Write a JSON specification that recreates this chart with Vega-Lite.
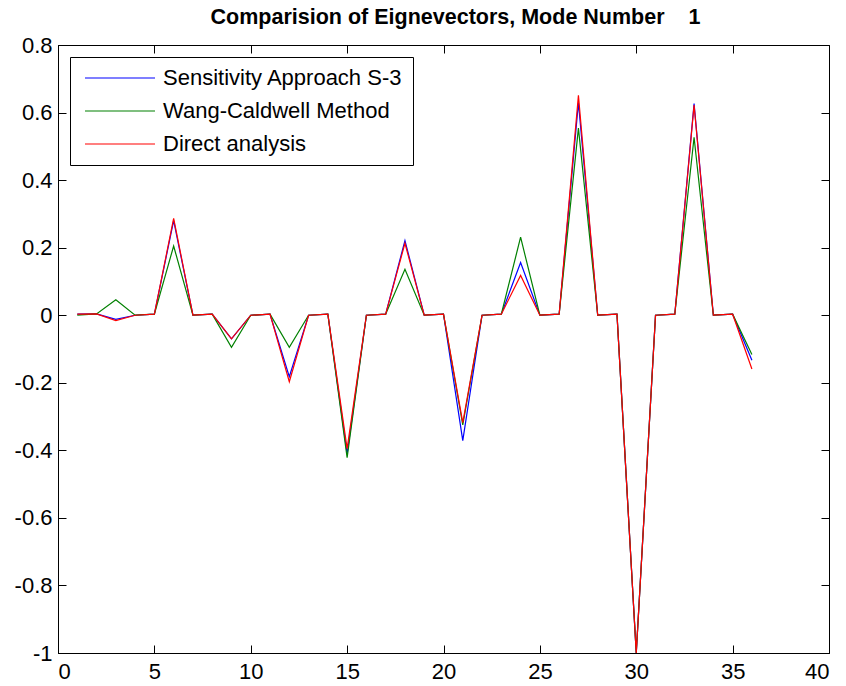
{
  "$schema": "https://vega.github.io/schema/vega-lite/v6.json",
  "width": 771,
  "height": 608,
  "autosize": "none",
  "padding": {"left": 58, "top": 45, "right": 17, "bottom": 33},
  "background": "white",
  "title": {"text": "Comparision of Eignevectors, Mode Number\u00a0\u00a0\u00a0 1", "font": "Liberation Sans", "fontSize": 21.5, "fontWeight": "bold", "color": "black", "offset": 6, "dx": 12, "anchor": "middle"},
  "config": {
    "view": {"stroke": "black", "strokeWidth": 1},
    "axis": {"grid": false, "domainColor": "black", "tickColor": "black", "labelColor": "black", "labelFont": "Liberation Sans", "labelFontSize": 22, "tickSize": -8, "title": null}
  },
  "data": {"values": [
    {"i":1,"s":"Sensitivity Approach S-3","v":0.003},{"i":2,"s":"Sensitivity Approach S-3","v":0.004},{"i":3,"s":"Sensitivity Approach S-3","v":-0.012},{"i":4,"s":"Sensitivity Approach S-3","v":0},{"i":5,"s":"Sensitivity Approach S-3","v":0.003},{"i":6,"s":"Sensitivity Approach S-3","v":0.28},{"i":7,"s":"Sensitivity Approach S-3","v":0},{"i":8,"s":"Sensitivity Approach S-3","v":0.003},{"i":9,"s":"Sensitivity Approach S-3","v":-0.07},{"i":10,"s":"Sensitivity Approach S-3","v":0},{"i":11,"s":"Sensitivity Approach S-3","v":0.003},{"i":12,"s":"Sensitivity Approach S-3","v":-0.182},{"i":13,"s":"Sensitivity Approach S-3","v":0},{"i":14,"s":"Sensitivity Approach S-3","v":0.003},{"i":15,"s":"Sensitivity Approach S-3","v":-0.41},{"i":16,"s":"Sensitivity Approach S-3","v":0},{"i":17,"s":"Sensitivity Approach S-3","v":0.003},{"i":18,"s":"Sensitivity Approach S-3","v":0.221},{"i":19,"s":"Sensitivity Approach S-3","v":0},{"i":20,"s":"Sensitivity Approach S-3","v":0.003},{"i":21,"s":"Sensitivity Approach S-3","v":-0.371},{"i":22,"s":"Sensitivity Approach S-3","v":0},{"i":23,"s":"Sensitivity Approach S-3","v":0.003},{"i":24,"s":"Sensitivity Approach S-3","v":0.156},{"i":25,"s":"Sensitivity Approach S-3","v":0},{"i":26,"s":"Sensitivity Approach S-3","v":0.003},{"i":27,"s":"Sensitivity Approach S-3","v":0.629},{"i":28,"s":"Sensitivity Approach S-3","v":0},{"i":29,"s":"Sensitivity Approach S-3","v":0.003},{"i":30,"s":"Sensitivity Approach S-3","v":-1},{"i":31,"s":"Sensitivity Approach S-3","v":0},{"i":32,"s":"Sensitivity Approach S-3","v":0.003},{"i":33,"s":"Sensitivity Approach S-3","v":0.627},{"i":34,"s":"Sensitivity Approach S-3","v":0},{"i":35,"s":"Sensitivity Approach S-3","v":0.003},{"i":36,"s":"Sensitivity Approach S-3","v":-0.133},
    {"i":1,"s":"Wang-Caldwell Method","v":0},{"i":2,"s":"Wang-Caldwell Method","v":0.004},{"i":3,"s":"Wang-Caldwell Method","v":0.046},{"i":4,"s":"Wang-Caldwell Method","v":0},{"i":5,"s":"Wang-Caldwell Method","v":0.003},{"i":6,"s":"Wang-Caldwell Method","v":0.205},{"i":7,"s":"Wang-Caldwell Method","v":0},{"i":8,"s":"Wang-Caldwell Method","v":0.003},{"i":9,"s":"Wang-Caldwell Method","v":-0.095},{"i":10,"s":"Wang-Caldwell Method","v":0},{"i":11,"s":"Wang-Caldwell Method","v":0.003},{"i":12,"s":"Wang-Caldwell Method","v":-0.095},{"i":13,"s":"Wang-Caldwell Method","v":0},{"i":14,"s":"Wang-Caldwell Method","v":0.003},{"i":15,"s":"Wang-Caldwell Method","v":-0.422},{"i":16,"s":"Wang-Caldwell Method","v":0},{"i":17,"s":"Wang-Caldwell Method","v":0.003},{"i":18,"s":"Wang-Caldwell Method","v":0.136},{"i":19,"s":"Wang-Caldwell Method","v":0},{"i":20,"s":"Wang-Caldwell Method","v":0.003},{"i":21,"s":"Wang-Caldwell Method","v":-0.325},{"i":22,"s":"Wang-Caldwell Method","v":0},{"i":23,"s":"Wang-Caldwell Method","v":0.003},{"i":24,"s":"Wang-Caldwell Method","v":0.231},{"i":25,"s":"Wang-Caldwell Method","v":0},{"i":26,"s":"Wang-Caldwell Method","v":0.003},{"i":27,"s":"Wang-Caldwell Method","v":0.554},{"i":28,"s":"Wang-Caldwell Method","v":0},{"i":29,"s":"Wang-Caldwell Method","v":0.003},{"i":30,"s":"Wang-Caldwell Method","v":-1},{"i":31,"s":"Wang-Caldwell Method","v":0},{"i":32,"s":"Wang-Caldwell Method","v":0.003},{"i":33,"s":"Wang-Caldwell Method","v":0.527},{"i":34,"s":"Wang-Caldwell Method","v":0},{"i":35,"s":"Wang-Caldwell Method","v":0.003},{"i":36,"s":"Wang-Caldwell Method","v":-0.116},
    {"i":1,"s":"Direct analysis","v":0.003},{"i":2,"s":"Direct analysis","v":0.004},{"i":3,"s":"Direct analysis","v":-0.016},{"i":4,"s":"Direct analysis","v":0},{"i":5,"s":"Direct analysis","v":0.003},{"i":6,"s":"Direct analysis","v":0.287},{"i":7,"s":"Direct analysis","v":0},{"i":8,"s":"Direct analysis","v":0.003},{"i":9,"s":"Direct analysis","v":-0.07},{"i":10,"s":"Direct analysis","v":0},{"i":11,"s":"Direct analysis","v":0.003},{"i":12,"s":"Direct analysis","v":-0.197},{"i":13,"s":"Direct analysis","v":0},{"i":14,"s":"Direct analysis","v":0.003},{"i":15,"s":"Direct analysis","v":-0.395},{"i":16,"s":"Direct analysis","v":0},{"i":17,"s":"Direct analysis","v":0.003},{"i":18,"s":"Direct analysis","v":0.213},{"i":19,"s":"Direct analysis","v":0},{"i":20,"s":"Direct analysis","v":0.003},{"i":21,"s":"Direct analysis","v":-0.318},{"i":22,"s":"Direct analysis","v":0},{"i":23,"s":"Direct analysis","v":0.003},{"i":24,"s":"Direct analysis","v":0.118},{"i":25,"s":"Direct analysis","v":0},{"i":26,"s":"Direct analysis","v":0.003},{"i":27,"s":"Direct analysis","v":0.651},{"i":28,"s":"Direct analysis","v":0},{"i":29,"s":"Direct analysis","v":0.003},{"i":30,"s":"Direct analysis","v":-1},{"i":31,"s":"Direct analysis","v":0},{"i":32,"s":"Direct analysis","v":0.003},{"i":33,"s":"Direct analysis","v":0.622},{"i":34,"s":"Direct analysis","v":0},{"i":35,"s":"Direct analysis","v":0.003},{"i":36,"s":"Direct analysis","v":-0.159}
  ]},
  "layer": [
    {
      "mark": {"type": "point", "opacity": 0},
      "encoding": {
        "x": {"field": "i", "type": "quantitative", "scale": {"domain": [0, 40], "nice": false, "zero": false}, "axis": {"orient": "top", "labels": false, "values": [0,5,10,15,20,25,30,35,40], "domain": false}},
        "y": {"field": "v", "type": "quantitative", "scale": {"domain": [-1, 0.8], "nice": false, "zero": false}, "axis": {"orient": "right", "labels": false, "values": [-1,-0.8,-0.6,-0.4,-0.2,0,0.2,0.4,0.6,0.8], "domain": false}}
      }
    },
    {
      "mark": {"type": "line", "strokeWidth": 1.2, "clip": true},
      "encoding": {
        "x": {"field": "i", "type": "quantitative", "scale": {"domain": [0, 40], "nice": false, "zero": false}, "axis": {"orient": "bottom", "values": [0,5,10,15,20,25,30,35,40], "labelPadding": 16, "labelExpr": "toString(datum.value)"}},
        "y": {"field": "v", "type": "quantitative", "scale": {"domain": [-1, 0.8], "nice": false, "zero": false}, "axis": {"orient": "left", "values": [-1,-0.8,-0.6,-0.4,-0.2,0,0.2,0.4,0.6,0.8], "labelPadding": 14, "labelExpr": "toString(datum.value)"}},
        "color": {"field": "s", "type": "nominal", "sort": null,
          "scale": {"domain": ["Sensitivity Approach S-3", "Wang-Caldwell Method", "Direct analysis"], "range": ["#0000ff", "#008000", "#ff0000"]},
          "legend": {"title": null, "orient": "top-left", "offset": 12, "symbolType": "M-10,0L10,0", "symbolSize": 49, "symbolStrokeWidth": 1.2, "symbolFillColor": "transparent", "labelFont": "Liberation Sans", "labelFontSize": 22, "labelColor": "black", "strokeColor": "black", "fillColor": "white", "padding": 10, "rowPadding": 11, "symbolOffset": 29, "labelOffset": 32, "labelLimit": 500}
        }
      }
    }
  ],
  "resolve": {"axis": {"x": "independent", "y": "independent"}}
}
